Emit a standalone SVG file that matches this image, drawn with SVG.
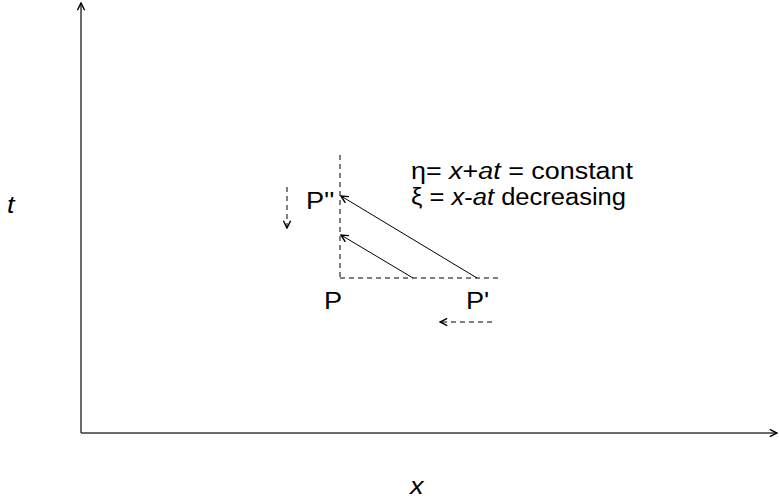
<svg xmlns="http://www.w3.org/2000/svg" width="779" height="501" viewBox="0 0 779 501">
<style>
.t{font-family:"Liberation Sans",Arial,sans-serif;font-size:23px;fill:#000}
.i{font-style:italic}
.ax{stroke:#3a3a3a;stroke-width:1.5;fill:none}
.d{stroke:#000;stroke-width:1;stroke-dasharray:5,4;fill:none}
.s{stroke:#000;stroke-width:1;fill:none}
</style>
<defs>
<marker id="ah" viewBox="0 0 10 10" refX="9" refY="5" markerWidth="9" markerHeight="9" markerUnits="userSpaceOnUse" orient="auto">
<path d="M1,1 L9,5 L1,9" fill="none" stroke="#000" stroke-width="1.6"/>
</marker>
</defs>
<rect width="779" height="501" fill="#fff"/>
<g id="connectors">
<line class="ax" x1="81" y1="433" x2="81" y2="3" marker-end="url(#ah)"/>
<line class="ax" x1="81" y1="433" x2="777" y2="433" marker-end="url(#ah)"/>
<line class="d" x1="340" y1="155" x2="340" y2="278"/>
<line class="d" x1="340" y1="278" x2="500" y2="278"/>
<line class="s" x1="413" y1="278" x2="341" y2="235" marker-end="url(#ah)"/>
<line class="s" x1="477" y1="278" x2="341" y2="196" marker-end="url(#ah)"/>
<line class="d" x1="287" y1="187" x2="287" y2="228" marker-end="url(#ah)"/>
<line class="d" x1="492" y1="322" x2="440" y2="322" marker-end="url(#ah)"/>
</g>
<g id="labels">
<text class="t i" transform="translate(7,213) scale(1.18,1)">t</text>
<text class="t i" transform="translate(410,494) scale(1.18,1)">x</text>
<text class="t" transform="translate(306,209) scale(1.18,1)">P''</text>
<text class="t" transform="translate(324,309) scale(1.18,1)">P</text>
<text class="t" transform="translate(466,309) scale(1.18,1)">P'</text>
<text class="t" x="411" y="179" textLength="222" lengthAdjust="spacingAndGlyphs">η= <tspan class="i">x</tspan>+<tspan class="i">at</tspan> = constant</text>
<text class="t" x="411" y="205" textLength="215" lengthAdjust="spacingAndGlyphs">ξ = <tspan class="i">x</tspan>-<tspan class="i">at</tspan> decreasing</text>
</g>
</svg>
